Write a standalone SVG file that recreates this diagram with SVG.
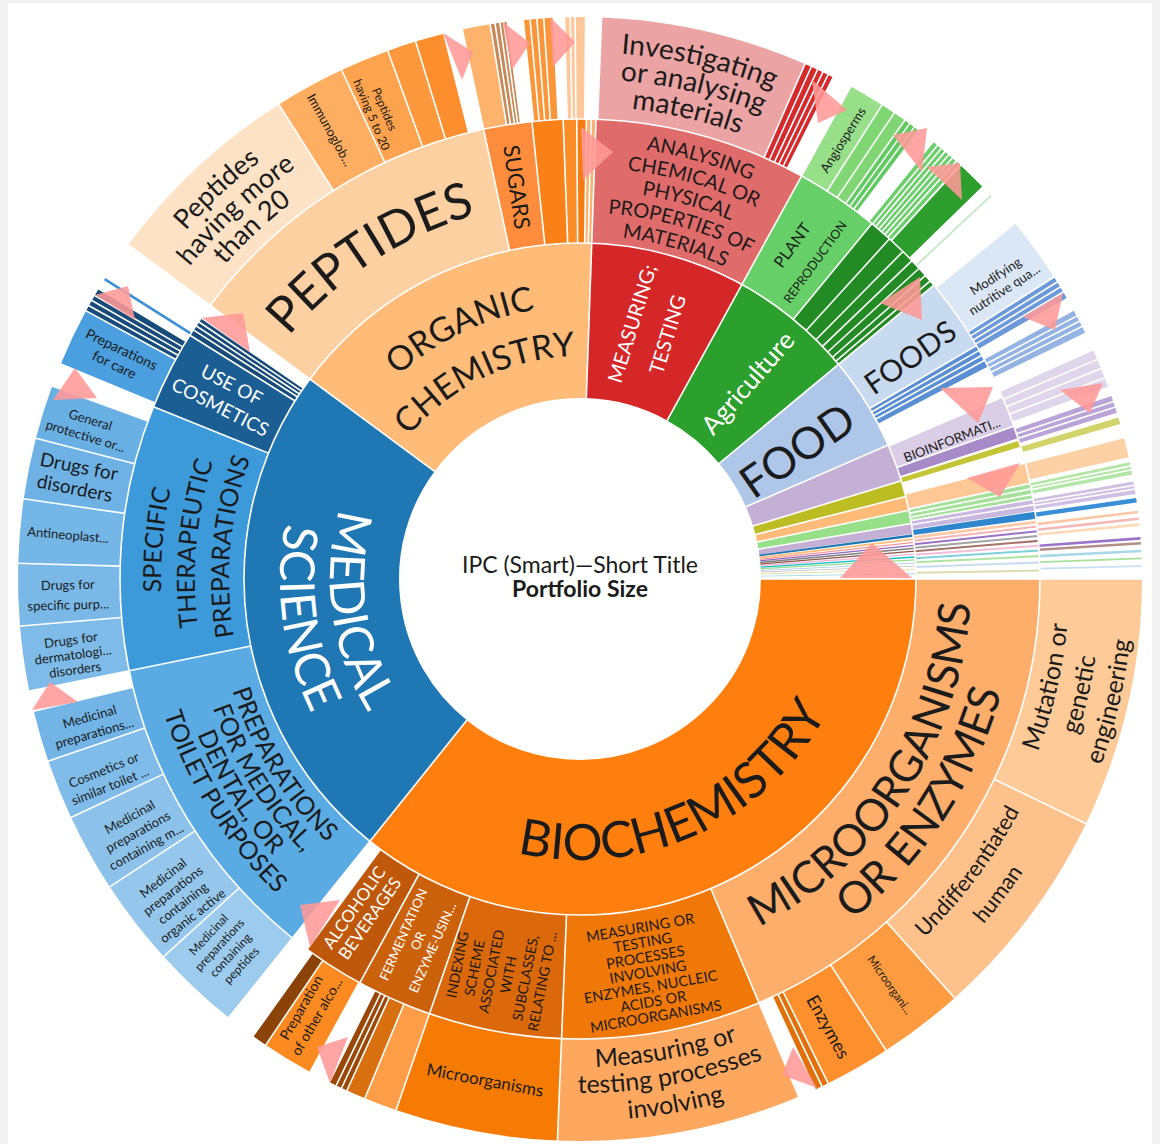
<svg xmlns="http://www.w3.org/2000/svg" width="1160" height="1144" viewBox="0 0 1160 1144">
<style>
text{font-family:Lato,"Liberation Sans","DejaVu Sans",sans-serif;fill:#1b1b1b}
.w{fill:#fff}
.sep{stroke:#fff;stroke-width:1.6;fill:none}
.tri{fill:#ff9896;fill-opacity:.88}
</style>
<defs>
<circle id="c1" cx="580" cy="579" r="258.5" fill="none" stroke-width="155"/>
<circle id="c2" cx="580" cy="579" r="398" fill="none" stroke-width="124"/>
<circle id="c3" cx="580" cy="579" r="511" fill="none" stroke-width="102"/>
<line id="s1" x1="580" y1="398" x2="580" y2="243"/>
<line id="s2" x1="580" y1="243" x2="580" y2="119"/>
<line id="s3" x1="580" y1="119" x2="580" y2="15"/>
<line id="s12" x1="580" y1="398" x2="580" y2="119"/>
<line id="s23" x1="580" y1="243" x2="580" y2="15"/>
<line id="s123" x1="580" y1="398" x2="580" y2="15"/>
<path id="p223" d="M580 802A223 223 0 1 1 580 356A223 223 0 1 1 580 802"/>
<path id="p273" d="M580 852A273 273 0 1 1 580 306A273 273 0 1 1 580 852"/>
<path id="p379" d="M580 958A379 379 0 1 1 580 200A379 379 0 1 1 580 958"/>
<path id="p419" d="M580 998A419 419 0 1 1 580 160A419 419 0 1 1 580 998"/>
<path id="p385" d="M580 964A385 385 0 1 1 580 194A385 385 0 1 1 580 964"/>
<path id="p351" d="M580 930A351 351 0 1 1 580 228A351 351 0 1 1 580 930"/>
<path id="p434" d="M580 1013A434 434 0 1 1 580 145A434 434 0 1 1 580 1013"/>
<path id="p411" d="M580 990.5A411.5 411.5 0 1 1 580 167.5A411.5 411.5 0 1 1 580 990.5"/>
<path id="p389" d="M580 968A389 389 0 1 1 580 190A389 389 0 1 1 580 968"/>
<path id="p366" d="M580 945.5A366.5 366.5 0 1 1 580 212.5A366.5 366.5 0 1 1 580 945.5"/>
<path id="p344" d="M580 923A344 344 0 1 1 580 235A344 344 0 1 1 580 923"/>
<path id="p526" d="M580 1105A526 526 0 1 1 580 53A526 526 0 1 1 580 1105"/>
<path id="p527" d="M580 1106A527 527 0 1 1 580 52A527 527 0 1 1 580 1106"/>
<path id="p500" d="M580 1079A500 500 0 1 1 580 79A500 500 0 1 1 580 1079"/>
<path id="p474" d="M580 1053A474 474 0 1 1 580 105A474 474 0 1 1 580 1053"/>
<path id="p473" d="M580 1052A473 473 0 1 1 580 106A473 473 0 1 1 580 1052"/>
<path id="q281" d="M580 298A281 281 0 1 0 580 860A281 281 0 1 0 580 298"/>
<path id="q250" d="M580 329A250 250 0 1 0 580 829A250 250 0 1 0 580 329"/>
<path id="q300" d="M580 279A300 300 0 1 0 580 879A300 300 0 1 0 580 279"/>
<path id="q391" d="M580 188A391 391 0 1 0 580 970A391 391 0 1 0 580 188"/>
<path id="q436" d="M580 143A436 436 0 1 0 580 1015A436 436 0 1 0 580 143"/>
<path id="q365" d="M580 214A365 365 0 1 0 580 944A365 365 0 1 0 580 214"/>
<path id="q389" d="M580 190A389 389 0 1 0 580 968A389 389 0 1 0 580 190"/>
<path id="q413" d="M580 166A413 413 0 1 0 580 992A413 413 0 1 0 580 166"/>
<path id="q437" d="M580 142A437 437 0 1 0 580 1016A437 437 0 1 0 580 142"/>
<path id="q489" d="M580 89.5A489.5 489.5 0 1 0 580 1068.5A489.5 489.5 0 1 0 580 89.5"/>
<path id="q521" d="M580 57.5A521.5 521.5 0 1 0 580 1100.5A521.5 521.5 0 1 0 580 57.5"/>
<path id="q553" d="M580 25.5A553.5 553.5 0 1 0 580 1132.5A553.5 553.5 0 1 0 580 25.5"/>
<path id="q497" d="M580 82A497 497 0 1 0 580 1076A497 497 0 1 0 580 82"/>
<path id="q531" d="M580 48A531 531 0 1 0 580 1110A531 531 0 1 0 580 48"/>
<path id="q488" d="M580 91A488 488 0 1 0 580 1067A488 488 0 1 0 580 91"/>
<path id="q514" d="M580 65A514 514 0 1 0 580 1093A514 514 0 1 0 580 65"/>
<path id="q542" d="M580 37A542 542 0 1 0 580 1121A542 542 0 1 0 580 37"/>
</defs>
<rect width="1160" height="1144" fill="#f2f2f2"/>
<rect x="8" y="3" width="1144" height="1141" fill="#fff"/>

<!-- RING 1 -->
<g id="biochemistry">
<use href="#c1" stroke="#ff7f0e" stroke-dasharray="580.66 4000"/>
<text font-size="50" text-anchor="middle"><textPath href="#q281" startOffset="56.75%">BIOCHEMISTRY</textPath></text>
</g>
<g id="medical-science">
<use href="#c1" stroke="#1f77b4" stroke-dasharray="396.13 4000" transform="rotate(128.7 580 579)"/>
<text class="w" font-size="48" text-anchor="middle"><textPath href="#q250" startOffset="27.22%">MEDICAL</textPath></text>
<text class="w" font-size="48" text-anchor="middle"><textPath href="#q300" startOffset="27.22%">SCIENCE</textPath></text>
</g>
<g id="organic-chemistry">
<use href="#c1" stroke="#ffbb78" stroke-dasharray="250.40 4000" transform="rotate(216.5 580 579)"/>
<text font-size="34" text-anchor="middle"><textPath href="#p273" startOffset="42.86%">ORGANIC</textPath></text>
<text font-size="34" text-anchor="middle"><textPath href="#p223" startOffset="42.86%">CHEMISTRY</textPath></text>
</g>
<g id="measuring-testing">
<use href="#c1" stroke="#d62728" stroke-dasharray="120.91 4000" transform="rotate(-88 580 579)"/>
<text class="w" font-size="20" text-anchor="middle" transform="translate(650 329) rotate(-73)"><tspan x="0" y="-11.5">MEASURING;</tspan><tspan x="0" y="25.5">TESTING</tspan></text>
</g>
<g id="agriculture">
<use href="#c1" stroke="#2ca02c" stroke-dasharray="97.00 4000" transform="rotate(-61.2 580 579)"/>
<text class="w" font-size="26" text-anchor="middle" transform="translate(748 383) rotate(-49)" y="9">Agriculture</text>
</g>
<g id="food">
<use href="#c1" stroke="#aec7e8" stroke-dasharray="73.09 4000" transform="rotate(-39.7 580 579)"/>
<text font-size="44" text-anchor="middle" transform="translate(797 450) rotate(-35)" y="16">FOOD</text>
</g>
<g id="ring1-minor">
<use href="#c1" stroke="#c5b0d5" stroke-dasharray="29.33 4000" transform="rotate(-23.5 580 579)"/>
<use href="#c1" stroke="#bcbd22" stroke-dasharray="12.63 4000" transform="rotate(-17 580 579)"/>
<use href="#c1" stroke="#ffbb78" stroke-dasharray="10.83 4000" transform="rotate(-14.2 580 579)"/>
<use href="#c1" stroke="#98df8a" stroke-dasharray="10.38 4000" transform="rotate(-11.8 580 579)"/>
<use href="#c1" stroke="#c5b0d5" stroke-dasharray="8.12 4000" transform="rotate(-9.5 580 579)"/>
<use href="#c1" stroke="#1f77b4" stroke-dasharray="2.26 4000" transform="rotate(-7.7 580 579)"/>
<use href="#c1" stroke="#ffbb78" stroke-dasharray="1.80 4000" transform="rotate(-7 580 579)"/>
<use href="#c1" stroke="#ff9896" stroke-dasharray="1.35 4000" transform="rotate(-6.4 580 579)"/>
<use href="#c1" stroke="#9467bd" stroke-dasharray="1.35 4000" transform="rotate(-5.9 580 579)"/>
<use href="#c1" stroke="#7f7f7f" stroke-dasharray="1.35 4000" transform="rotate(-5.4 580 579)"/>
<use href="#c1" stroke="#8c564b" stroke-dasharray="1.35 4000" transform="rotate(-4.9 580 579)"/>
<use href="#c1" stroke="#f7b6d2" stroke-dasharray="1.35 4000" transform="rotate(-4.4 580 579)"/>
<use href="#c1" stroke="#17becf" stroke-dasharray="1.35 4000" transform="rotate(-3.9 580 579)"/>
<use href="#c1" stroke="#98df8a" stroke-dasharray="1.35 4000" transform="rotate(-3.4 580 579)"/>
<use href="#c1" stroke="#aec7e8" stroke-dasharray="0.9 4000" transform="rotate(-2.8 580 579)"/>
<use href="#c1" stroke="#c7c7c7" stroke-dasharray="0.9 4000" transform="rotate(-2.3 580 579)"/>
<use href="#c1" stroke="#dbdb8d" stroke-dasharray="0.9 4000" transform="rotate(-1.7 580 579)"/>
<use href="#c1" stroke="#9edae5" stroke-dasharray="0.9 4000" transform="rotate(-1 580 579)"/>
</g>

<!-- RING 2 -->
<g id="microorganisms-or-enzymes">
<use href="#c2" stroke="#fdae6b" stroke-dasharray="466.10 4000"/>
<text font-size="44" text-anchor="middle"><textPath href="#q391" startOffset="65.78%">MICROORGANISMS</textPath></text>
<text font-size="44" text-anchor="middle"><textPath href="#q436" startOffset="65.78%">OR ENZYMES</textPath></text>
</g>
<g id="measuring-or-testing-processes">
<use href="#c2" stroke="#f07808" stroke-dasharray="175.05 4000" transform="rotate(67.1 580 579)"/>
<text font-size="14.5" text-anchor="middle" transform="translate(648 972) rotate(-10)"><tspan x="0" y="-39.9">MEASURING OR</tspan><tspan x="0" y="-24.9">TESTING</tspan><tspan x="0" y="-9.9">PROCESSES</tspan><tspan x="0" y="5.1">INVOLVING</tspan><tspan x="0" y="20.1">ENZYMES, NUCLEIC</tspan><tspan x="0" y="35.1">ACIDS OR</tspan><tspan x="0" y="50.1">MICROORGANISMS</tspan></text>
</g>
<g id="indexing-scheme">
<use href="#c2" stroke="#dc680c" stroke-dasharray="116.70 4000" transform="rotate(92.3 580 579)"/>
<text font-size="14" text-anchor="middle" transform="translate(500 973) rotate(-79)"><tspan x="0" y="-38.35">INDEXING</tspan><tspan x="0" y="-21.05">SCHEME</tspan><tspan x="0" y="-3.75">ASSOCIATED</tspan><tspan x="0" y="13.55">WITH</tspan><tspan x="0" y="30.85">SUBCLASSES,</tspan><tspan x="0" y="48.15">RELATING TO ...</tspan></text>
</g>
<g id="fermentation">
<use href="#c2" stroke="#cb610b" stroke-dasharray="65.99 4000" transform="rotate(109.1 580 579)"/>
<text class="w" font-size="13" text-anchor="middle" transform="translate(418 941) rotate(-66)"><tspan x="0" y="-11.4">FERMENTATION</tspan><tspan x="0" y="4.6">OR</tspan><tspan x="0" y="20.6">ENZYME-USIN...</tspan></text>
</g>
<g id="alcoholic-beverages">
<use href="#c2" stroke="#bf580a" stroke-dasharray="53.49 4000" transform="rotate(118.6 580 579)"/>
<text class="w" font-size="17" text-anchor="middle" transform="translate(362 913) rotate(-55)"><tspan x="0" y="-3.5">ALCOHOLIC</tspan><tspan x="0" y="15.5">BEVERAGES</tspan></text>
</g>
<g id="preparations-medical">
<use href="#c2" stroke="#5aaae3" stroke-dasharray="276.47 4000" transform="rotate(128.7 580 579)"/>
<text font-size="25" text-anchor="middle"><textPath href="#q365" startOffset="33.89%">PREPARATIONS</textPath></text>
<text font-size="25" text-anchor="middle"><textPath href="#q389" startOffset="33.89%">FOR MEDICAL,</textPath></text>
<text font-size="25" text-anchor="middle"><textPath href="#q413" startOffset="33.89%">DENTAL, OR</textPath></text>
<text font-size="25" text-anchor="middle"><textPath href="#q437" startOffset="33.89%">TOILET PURPOSES</textPath></text>
</g>
<g id="specific-therapeutic">
<use href="#c2" stroke="#3c99da" stroke-dasharray="232.70 4000" transform="rotate(168.5 580 579)"/>
<text font-size="25" text-anchor="middle"><textPath href="#p419" startOffset="26.47%">SPECIFIC</textPath></text>
<text font-size="25" text-anchor="middle"><textPath href="#p385" startOffset="26.47%">THERAPEUTIC</textPath></text>
<text font-size="25" text-anchor="middle"><textPath href="#p351" startOffset="26.47%">PREPARATIONS</textPath></text>
</g>
<g id="use-of-cosmetics">
<use href="#c2" stroke="#1b5e93" stroke-dasharray="69.46 4000" transform="rotate(202 580 579)"/>
<use href="#c2" stroke="#164b78" stroke-dasharray="17.37 4000" transform="rotate(212 580 579)"/>
<text class="w" font-size="19" text-anchor="middle" transform="translate(226 396) rotate(27)"><tspan x="0" y="-5.8">USE OF</tspan><tspan x="0" y="19.2">COSMETICS</tspan></text>
</g>
<g id="peptides">
<use href="#c2" stroke="#fdd0a2" stroke-dasharray="287.58 4000" transform="rotate(216.5 580 579)"/>
<text font-size="50" text-anchor="middle"><textPath href="#p379" startOffset="40.81%">PEPTIDES</textPath></text>
</g>
<g id="sugars">
<use href="#c2" stroke="#fd8d3c" stroke-dasharray="42.37 4000" transform="rotate(257.9 580 579)"/>
<text font-size="22" text-anchor="middle" transform="translate(517 187) rotate(82)" y="8">SUGARS</text>
</g>
<g id="organic-minor">
<use href="#c2" stroke="#f98118" stroke-dasharray="27.09 4000" transform="rotate(264 580 579)"/>
<use href="#c2" stroke="#fb8c26" stroke-dasharray="11.81 4000" transform="rotate(267.9 580 579)"/>
<use href="#c2" stroke="#f47c12" stroke-dasharray="8.34 4000" transform="rotate(269.6 580 579)"/>
<use href="#c2" stroke="#fbb070" stroke-dasharray="8.34 4000" transform="rotate(270.8 580 579)"/>
</g>
<g id="analysing">
<use href="#c2" stroke="#e06b6b" stroke-dasharray="186.16 4000" transform="rotate(-88 580 579)"/>
<text font-size="20" text-anchor="middle"><textPath href="#p434" startOffset="54.44%">ANALYSING</textPath></text>
<text font-size="20" text-anchor="middle"><textPath href="#p411" startOffset="54.44%">CHEMICAL OR</textPath></text>
<text font-size="20" text-anchor="middle"><textPath href="#p389" startOffset="54.44%">PHYSICAL</textPath></text>
<text font-size="20" text-anchor="middle"><textPath href="#p366" startOffset="54.44%">PROPERTIES OF</textPath></text>
<text font-size="20" text-anchor="middle"><textPath href="#p344" startOffset="54.44%">MATERIALS</textPath></text>
</g>
<g id="plant-reproduction">
<use href="#c2" stroke="#67cf67" stroke-dasharray="73.63 4000" transform="rotate(-61.2 580 579)"/>
<text font-size="16" text-anchor="middle" transform="translate(792 245) rotate(-54)" y="6">PLANT</text>
<text font-size="12.5" text-anchor="middle" transform="translate(815 262) rotate(-54)" y="4.5">REPRODUCTION</text>
</g>
<g id="agriculture-minor">
<use href="#c2" stroke="#238b23" stroke-dasharray="75.72 4000" transform="rotate(-50.6 580 579)"/>
</g>
<g id="foods">
<use href="#c2" stroke="#c7daf0" stroke-dasharray="63.91 4000" transform="rotate(-39.7 580 579)"/>
<use href="#c2" stroke="#5a8fd3" stroke-dasharray="20.84 4000" transform="rotate(-30.5 580 579)"/>
<text font-size="30" text-anchor="middle" transform="translate(910 357) rotate(-35)" y="11">FOODS</text>
</g>
<g id="bioinformatics">
<use href="#c2" stroke="#dacde6" stroke-dasharray="27.09 4000" transform="rotate(-23.3 580 579)"/>
<use href="#c2" stroke="#a78bc9" stroke-dasharray="11.11 4000" transform="rotate(-19.4 580 579)"/>
<text font-size="13" text-anchor="middle" transform="translate(952 440) rotate(-21)" y="4.5">BIOINFORMATI...</text>
</g>
<g id="ring2-minor">
<use href="#c2" stroke="#c4c536" stroke-dasharray="5.56 4000" transform="rotate(-17.5 580 579)"/>
<use href="#c2" stroke="#fdc895" stroke-dasharray="17.37 4000" transform="rotate(-14.5 580 579)"/>
<use href="#c2" stroke="#a5e19a" stroke-dasharray="13.89 4000" transform="rotate(-12 580 579)"/>
<use href="#c2" stroke="#c8b7de" stroke-dasharray="10.42 4000" transform="rotate(-10 580 579)"/>
<use href="#c2" stroke="#2f86cc" stroke-dasharray="6.25 4000" transform="rotate(-8.4 580 579)"/>
<use href="#c2" stroke="#fdc9a6" stroke-dasharray="2.78 4000" transform="rotate(-7.3 580 579)"/>
<use href="#c2" stroke="#f5b3b3" stroke-dasharray="2.08 4000" transform="rotate(-6.7 580 579)"/>
<use href="#c2" stroke="#9a73c5" stroke-dasharray="2.08 4000" transform="rotate(-6.1 580 579)"/>
<use href="#c2" stroke="#a3a3a3" stroke-dasharray="2.08 4000" transform="rotate(-5.5 580 579)"/>
<use href="#c2" stroke="#a47469" stroke-dasharray="2.08 4000" transform="rotate(-4.9 580 579)"/>
<use href="#c2" stroke="#f2bdd5" stroke-dasharray="2.08 4000" transform="rotate(-4.3 580 579)"/>
<use href="#c2" stroke="#7fd0dc" stroke-dasharray="2.08 4000" transform="rotate(-3.7 580 579)"/>
<use href="#c2" stroke="#b0e3a4" stroke-dasharray="2.08 4000" transform="rotate(-3 580 579)"/>
<use href="#c2" stroke="#c9dcef" stroke-dasharray="2.08 4000" transform="rotate(-2.2 580 579)"/>
<use href="#c2" stroke="#dcdcae" stroke-dasharray="2.08 4000" transform="rotate(-1.2 580 579)"/>
</g>

<!-- RING 3 -->
<g id="mutation">
<use href="#c3" stroke="#fdca98" stroke-dasharray="230.10 4000"/>
<text font-size="25" text-anchor="middle"><textPath href="#q489" startOffset="71.39%">Mutation or</textPath></text>
<text font-size="25" text-anchor="middle"><textPath href="#q521" startOffset="71.39%">genetic</textPath></text>
<text font-size="25" text-anchor="middle"><textPath href="#q553" startOffset="71.39%">engineering</textPath></text>
</g>
<g id="undifferentiated-human">
<use href="#c3" stroke="#fdc18c" stroke-dasharray="199.78 4000" transform="rotate(25.8 580 579)"/>
<text font-size="22" text-anchor="middle"><textPath href="#q497" startOffset="64.72%">Undifferentiated</textPath></text>
<text font-size="22" text-anchor="middle"><textPath href="#q531" startOffset="64.72%">human</textPath></text>
</g>
<g id="microorgani">
<use href="#c3" stroke="#fd9b40" stroke-dasharray="78.48 4000" transform="rotate(48.2 580 579)"/>
<text font-size="11.5" text-anchor="middle" transform="translate(890 985) rotate(55)" y="4">Microorgani...</text>
</g>
<g id="enzymes">
<use href="#c3" stroke="#fd8f2c" stroke-dasharray="60.65 4000" transform="rotate(57 580 579)"/>
<use href="#c3" stroke="#e2700a" stroke-dasharray="12.49 4000" transform="rotate(63.8 580 579)"/>
<text font-size="18" text-anchor="middle" transform="translate(828 1027) rotate(61)" y="6">Enzymes</text>
</g>
<g id="measuring-or-testing-involving">
<use href="#c3" stroke="#fda85e" stroke-dasharray="224.75 4000" transform="rotate(67.1 580 579)"/>
<text font-size="25" text-anchor="middle"><textPath href="#q488" startOffset="52.86%">Measuring or</textPath></text>
<text font-size="25" text-anchor="middle"><textPath href="#q514" startOffset="52.86%">testing processes</textPath></text>
<text font-size="25" text-anchor="middle"><textPath href="#q542" startOffset="52.86%">involving</textPath></text>
</g>
<g id="microorganisms">
<use href="#c3" stroke="#f57b05" stroke-dasharray="149.83 4000" transform="rotate(92.3 580 579)"/>
<text font-size="17" text-anchor="middle" transform="translate(485 1080) rotate(10.7)" y="6">Microorganisms</text>
</g>
<g id="fermentation-children">
<use href="#c3" stroke="#fd9d47" stroke-dasharray="30.32 4000" transform="rotate(109.1 580 579)"/>
<use href="#c3" stroke="#d8700f" stroke-dasharray="17.84 4000" transform="rotate(112.5 580 579)"/>
<use href="#c3" stroke="#9a4808" stroke-dasharray="16.95 4000" transform="rotate(114.5 580 579)"/>
</g>
<g id="preparation-other-alcoholic">
<use href="#c3" stroke="#fb8b20" stroke-dasharray="47.27 4000" transform="rotate(118.7 580 579)"/>
<use href="#c3" stroke="#8b4307" stroke-dasharray="13.38 4000" transform="rotate(124 580 579)"/>
<text font-size="14" text-anchor="middle" transform="translate(309 1012) rotate(-60)"><tspan x="0" y="-4">Preparation</tspan><tspan x="0" y="14">of other alco...</tspan></text>
</g>
<g id="medicinal-peptides">
<use href="#c3" stroke="#9ccbee" stroke-dasharray="81.16 4000" transform="rotate(128.7 580 579)"/>
<text font-size="12" text-anchor="middle" transform="translate(225 950) rotate(-47)"><tspan x="0" y="-18.3">Medicinal</tspan><tspan x="0" y="-3.3">preparations</tspan><tspan x="0" y="11.7">containing</tspan><tspan x="0" y="26.7">peptides</tspan></text>
</g>
<g id="medicinal-organic">
<use href="#c3" stroke="#95c7ec" stroke-dasharray="80.27 4000" transform="rotate(137.8 580 579)"/>
<text font-size="13" text-anchor="middle" transform="translate(178 897) rotate(-38)"><tspan x="0" y="-19.5">Medicinal</tspan><tspan x="0" y="-3.5">preparations</tspan><tspan x="0" y="12.5">containing</tspan><tspan x="0" y="28.5">organic active</tspan></text>
</g>
<g id="medicinal-m">
<use href="#c3" stroke="#8cc2ea" stroke-dasharray="72.24 4000" transform="rotate(146.8 580 579)"/>
<text font-size="13" text-anchor="middle" transform="translate(138 832) rotate(-29)"><tspan x="0" y="-12.5">Medicinal</tspan><tspan x="0" y="4.5">preparations</tspan><tspan x="0" y="21.5">containing m...</tspan></text>
</g>
<g id="cosmetics-toilet">
<use href="#c3" stroke="#80bce9" stroke-dasharray="55.30 4000" transform="rotate(154.9 580 579)"/>
<text font-size="13" text-anchor="middle" transform="translate(107 778) rotate(-22)"><tspan x="0" y="-4">Cosmetics or</tspan><tspan x="0" y="13">similar toilet ...</tspan></text>
</g>
<g id="medicinal-preparations">
<use href="#c3" stroke="#72b4e6" stroke-dasharray="46.38 4000" transform="rotate(161.1 580 579)"/>
<text font-size="13" text-anchor="middle" transform="translate(92 725) rotate(-16)"><tspan x="0" y="-4">Medicinal</tspan><tspan x="0" y="13">preparations...</tspan></text>
</g>
<g id="drugs-dermatological">
<use href="#c3" stroke="#7ebbe8" stroke-dasharray="59.75 4000" transform="rotate(168.5 580 579)"/>
<text font-size="13" text-anchor="middle" transform="translate(73 655) rotate(-8)"><tspan x="0" y="-10.5">Drugs for</tspan><tspan x="0" y="4.5">dermatologi...</tspan><tspan x="0" y="19.5">disorders</tspan></text>
</g>
<g id="drugs-specific">
<use href="#c3" stroke="#7ab9e7" stroke-dasharray="57.08 4000" transform="rotate(175.2 580 579)"/>
<text font-size="13" text-anchor="middle" transform="translate(68 595) rotate(-1.6)"><tspan x="0" y="-5.5">Drugs for</tspan><tspan x="0" y="14.5">specific purp...</tspan></text>
</g>
<g id="antineoplastic">
<use href="#c3" stroke="#74b6e6" stroke-dasharray="58.86 4000" transform="rotate(181.6 580 579)"/>
<text font-size="13" text-anchor="middle" transform="translate(68 535) rotate(5)" y="4.5">Antineoplast...</text>
</g>
<g id="drugs-disorders">
<use href="#c3" stroke="#6eb2e5" stroke-dasharray="56.19 4000" transform="rotate(188.2 580 579)"/>
<text font-size="19" text-anchor="middle" transform="translate(77 477) rotate(11)"><tspan x="0" y="-4">Drugs for</tspan><tspan x="0" y="18">disorders</tspan></text>
</g>
<g id="general-protective">
<use href="#c3" stroke="#68afe4" stroke-dasharray="49.05 4000" transform="rotate(194.5 580 579)"/>
<text font-size="13" text-anchor="middle" transform="translate(88 428) rotate(17)"><tspan x="0" y="-4">General</tspan><tspan x="0" y="13">protective or...</tspan></text>
</g>
<g id="preparations-for-care">
<use href="#c3" stroke="#4b9fdf" stroke-dasharray="53.51 4000" transform="rotate(202.5 580 579)"/>
<use href="#c3" stroke="#174b79" stroke-dasharray="22.30 4000" transform="rotate(208.5 580 579)"/>
<use href="#c3" stroke="#3d8fd6" stroke-dasharray="2.68 4000" transform="rotate(212.1 580 579)"/>
<text font-size="14" text-anchor="middle" transform="translate(118 357) rotate(25.5)"><tspan x="0" y="-3.5">Preparations</tspan><tspan x="0" y="13.5">for care</tspan></text>
</g>
<g id="peptides-more-than-20">
<use href="#c3" stroke="#fde2c5" stroke-dasharray="188.18 4000" transform="rotate(216.5 580 579)"/>
<text font-size="27" text-anchor="middle"><textPath href="#p526" startOffset="38.06%">Peptides</textPath></text>
<text font-size="27" text-anchor="middle"><textPath href="#p500" startOffset="38.06%">having more</textPath></text>
<text font-size="27" text-anchor="middle"><textPath href="#p474" startOffset="38.06%">than 20</textPath></text>
</g>
<g id="immunoglobulins">
<use href="#c3" stroke="#fdae61" stroke-dasharray="65.11 4000" transform="rotate(237.6 580 579)"/>
<text font-size="13" text-anchor="middle" transform="translate(330 130) rotate(61)" y="4.5">Immunoglob...</text>
</g>
<g id="peptides-5-to-20">
<use href="#c3" stroke="#fda34d" stroke-dasharray="45.48 4000" transform="rotate(244.9 580 579)"/>
<text font-size="12" text-anchor="middle" transform="translate(378 112) rotate(67)"><tspan x="0" y="-2.8">Peptides</tspan><tspan x="0" y="11.2">having 5 to 20</tspan></text>
</g>
<g id="ring3-organic-minor">
<use href="#c3" stroke="#fd983d" stroke-dasharray="26.76 4000" transform="rotate(250 580 579)"/>
<use href="#c3" stroke="#fc8e2d" stroke-dasharray="25.86 4000" transform="rotate(253 580 579)"/>
<use href="#c3" stroke="#fdb36b" stroke-dasharray="25.86 4000" transform="rotate(257.9 580 579)"/>
<use href="#c3" stroke="#c58a58" stroke-dasharray="15.16 4000" transform="rotate(260.8 580 579)"/>
<use href="#c3" stroke="#fb9638" stroke-dasharray="26.76 4000" transform="rotate(264.2 580 579)"/>
<use href="#c3" stroke="#fdc79a" stroke-dasharray="17.84 4000" transform="rotate(268.5 580 579)"/>
</g>
<g id="investigating">
<use href="#c3" stroke="#eba3a3" stroke-dasharray="190.86 4000" transform="rotate(-87.8 580 579)"/>
<use href="#c3" stroke="#d42a2c" stroke-dasharray="27.65 4000" transform="rotate(-66.4 580 579)"/>
<text font-size="28" text-anchor="middle"><textPath href="#p527" startOffset="53.61%">Investigating</textPath></text>
<text font-size="28" text-anchor="middle"><textPath href="#p500" startOffset="53.61%">or analysing</textPath></text>
<text font-size="28" text-anchor="middle"><textPath href="#p473" startOffset="53.61%">materials</textPath></text>
</g>
<g id="angiosperms">
<use href="#c3" stroke="#98df8a" stroke-dasharray="33.00 4000" transform="rotate(-61.2 580 579)"/>
<text font-size="13" text-anchor="middle" transform="translate(843 140) rotate(-58)" y="4.5">Angiosperms</text>
</g>
<g id="ring3-agri-minor">
<use href="#c3" stroke="#7fd672" stroke-dasharray="24.97 4000" transform="rotate(-57.5 580 579)"/>
<use href="#c3" stroke="#5fca5f" stroke-dasharray="15.16 4000" transform="rotate(-54.7 580 579)"/>
<use href="#c3" stroke="#6ccf6c" stroke-dasharray="31.22 4000" transform="rotate(-51 580 579)"/>
<use href="#c3" stroke="#2e9e2e" stroke-dasharray="26.76 4000" transform="rotate(-47.3 580 579)"/>
<use href="#c3" stroke="#c2e8c2" stroke-dasharray="1.78 4000" transform="rotate(-43.1 580 579)"/>
</g>
<g id="modifying-nutritive">
<use href="#c3" stroke="#dbe7f5" stroke-dasharray="60.65 4000" transform="rotate(-39.3 580 579)"/>
<use href="#c3" stroke="#6b99d9" stroke-dasharray="22.30 4000" transform="rotate(-32.5 580 579)"/>
<use href="#c3" stroke="#93b3e2" stroke-dasharray="22.30 4000" transform="rotate(-28.5 580 579)"/>
<text font-size="13" text-anchor="middle" transform="translate(1000 283) rotate(-33)"><tspan x="0" y="-3.5">Modifying</tspan><tspan x="0" y="12.5">nutritive qua...</tspan></text>
</g>
<g id="ring3-minor">
<use href="#c3" stroke="#e0d6ec" stroke-dasharray="35.67 4000" transform="rotate(-24 580 579)"/>
<use href="#c3" stroke="#b9a4d7" stroke-dasharray="16.05 4000" transform="rotate(-19 580 579)"/>
<use href="#c3" stroke="#d2d36a" stroke-dasharray="6.24 4000" transform="rotate(-16.7 580 579)"/>
<use href="#c3" stroke="#fdd0a5" stroke-dasharray="17.84 4000" transform="rotate(-14.5 580 579)"/>
<use href="#c3" stroke="#b3e6a6" stroke-dasharray="11.59 4000" transform="rotate(-12 580 579)"/>
<use href="#c3" stroke="#cfc0e3" stroke-dasharray="11.59 4000" transform="rotate(-10 580 579)"/>
<use href="#c3" stroke="#3a8fd6" stroke-dasharray="4.46 4000" transform="rotate(-8.3 580 579)"/>
<use href="#c3" stroke="#fbc7a6" stroke-dasharray="2.68 4000" transform="rotate(-7 580 579)"/>
<use href="#c3" stroke="#f4b7b7" stroke-dasharray="2.68 4000" transform="rotate(-6.3 580 579)"/>
<use href="#c3" stroke="#fdd9b8" stroke-dasharray="2.68 4000" transform="rotate(-5.7 580 579)"/>
<use href="#c3" stroke="#9a74c8" stroke-dasharray="2.68 4000" transform="rotate(-4.3 580 579)"/>
<use href="#c3" stroke="#b09088" stroke-dasharray="2.68 4000" transform="rotate(-3.8 580 579)"/>
<use href="#c3" stroke="#a9d8e8" stroke-dasharray="2.68 4000" transform="rotate(-3 580 579)"/>
<use href="#c3" stroke="#a8e09a" stroke-dasharray="1.78 4000" transform="rotate(-2.2 580 579)"/>
<use href="#c3" stroke="#c6dff2" stroke-dasharray="1.78 4000" transform="rotate(-1.4 580 579)"/>
</g>

<!-- separators -->
<g id="separators" class="sep">
<circle cx="580" cy="579" r="336"/>
<circle cx="580" cy="579" r="460"/>
<use href="#s123" transform="rotate(90 580 579)"/>
<use href="#s123" transform="rotate(218.7 580 579)"/>
<use href="#s123" transform="rotate(306.5 580 579)"/>
<use href="#s123" transform="rotate(28.8 580 579)"/>
<use href="#s12" transform="rotate(2 580 579)"/>
<use href="#s12" transform="rotate(50.3 580 579)"/>
<use href="#s1" transform="rotate(66.5 580 579)"/>
<use href="#s1" transform="rotate(73 580 579)"/>
<use href="#s1" transform="rotate(75.8 580 579)"/>
<use href="#s1" transform="rotate(78.2 580 579)"/>
<use href="#s1" transform="rotate(80.5 580 579)"/>
<use href="#s23" transform="rotate(157.1 580 579)"/>
<use href="#s23" transform="rotate(182.3 580 579)"/>
<use href="#s23" transform="rotate(199.1 580 579)"/>
<use href="#s23" transform="rotate(258.5 580 579)"/>
<use href="#s23" transform="rotate(347.9 580 579)"/>
<use href="#s2" transform="rotate(208.6 580 579)"/>
<use href="#s2" transform="rotate(292 580 579)"/>
<use href="#s2" transform="rotate(302 580 579)"/>
<use href="#s2" transform="rotate(302.8 580 579)"/>
<use href="#s2" transform="rotate(303.4 580 579)"/>
<use href="#s2" transform="rotate(304 580 579)"/>
<use href="#s2" transform="rotate(354 580 579)"/>
<use href="#s2" transform="rotate(357.9 580 579)"/>
<use href="#s2" transform="rotate(359.6 580 579)"/>
<use href="#s2" transform="rotate(0.8 580 579)"/>
<use href="#s2" transform="rotate(1.4 580 579)"/>
<use href="#s2" transform="rotate(39.4 580 579)"/>
<use href="#s2" transform="rotate(42.3 580 579)"/>
<use href="#s2" transform="rotate(44.6 580 579)"/>
<use href="#s2" transform="rotate(46.2 580 579)"/>
<use href="#s2" transform="rotate(47.5 580 579)"/>
<use href="#s2" transform="rotate(48.7 580 579)"/>
<use href="#s2" transform="rotate(49.6 580 579)"/>
<use href="#s2" transform="rotate(59.5 580 579)"/>
<use href="#s2" transform="rotate(60.2 580 579)"/>
<use href="#s2" transform="rotate(60.9 580 579)"/>
<use href="#s2" transform="rotate(61.6 580 579)"/>
<use href="#s2" transform="rotate(66.7 580 579)"/>
<use href="#s2" transform="rotate(70.6 580 579)"/>
<use href="#s2" transform="rotate(78 580 579)"/>
<use href="#s2" transform="rotate(78.7 580 579)"/>
<use href="#s2" transform="rotate(79.4 580 579)"/>
<use href="#s2" transform="rotate(80 580 579)"/>
<use href="#s2" transform="rotate(80.7 580 579)"/>
<use href="#s3" transform="rotate(115.8 580 579)"/>
<use href="#s3" transform="rotate(138.2 580 579)"/>
<use href="#s3" transform="rotate(147 580 579)"/>
<use href="#s3" transform="rotate(153.8 580 579)"/>
<use href="#s3" transform="rotate(154.5 580 579)"/>
<use href="#s3" transform="rotate(202.5 580 579)"/>
<use href="#s3" transform="rotate(204.5 580 579)"/>
<use href="#s3" transform="rotate(205.1 580 579)"/>
<use href="#s3" transform="rotate(205.7 580 579)"/>
<use href="#s3" transform="rotate(208.7 580 579)"/>
<use href="#s3" transform="rotate(214 580 579)"/>
<use href="#s3" transform="rotate(227.8 580 579)"/>
<use href="#s3" transform="rotate(236.8 580 579)"/>
<use href="#s3" transform="rotate(244.9 580 579)"/>
<use href="#s3" transform="rotate(251.1 580 579)"/>
<use href="#s3" transform="rotate(265.2 580 579)"/>
<use href="#s3" transform="rotate(271.6 580 579)"/>
<use href="#s3" transform="rotate(278.2 580 579)"/>
<use href="#s3" transform="rotate(284.5 580 579)"/>
<use href="#s3" transform="rotate(292.5 580 579)"/>
<use href="#s3" transform="rotate(298.5 580 579)"/>
<use href="#s3" transform="rotate(299.1 580 579)"/>
<use href="#s3" transform="rotate(299.7 580 579)"/>
<use href="#s3" transform="rotate(300.3 580 579)"/>
<use href="#s3" transform="rotate(327.6 580 579)"/>
<use href="#s3" transform="rotate(334.9 580 579)"/>
<use href="#s3" transform="rotate(340 580 579)"/>
<use href="#s3" transform="rotate(343 580 579)"/>
<use href="#s3" transform="rotate(350.8 580 579)"/>
<use href="#s3" transform="rotate(351.3 580 579)"/>
<use href="#s3" transform="rotate(351.8 580 579)"/>
<use href="#s3" transform="rotate(352.2 580 579)"/>
<use href="#s3" transform="rotate(354.2 580 579)"/>
<use href="#s3" transform="rotate(354.9 580 579)"/>
<use href="#s3" transform="rotate(355.6 580 579)"/>
<use href="#s3" transform="rotate(356.3 580 579)"/>
<use href="#s3" transform="rotate(359 580 579)"/>
<use href="#s3" transform="rotate(359.5 580 579)"/>
<use href="#s3" transform="rotate(2.2 580 579)"/>
<use href="#s3" transform="rotate(23.6 580 579)"/>
<use href="#s3" transform="rotate(24.3 580 579)"/>
<use href="#s3" transform="rotate(25 580 579)"/>
<use href="#s3" transform="rotate(25.6 580 579)"/>
<use href="#s3" transform="rotate(26.2 580 579)"/>
<use href="#s3" transform="rotate(32.5 580 579)"/>
<use href="#s3" transform="rotate(34 580 579)"/>
<use href="#s3" transform="rotate(35.3 580 579)"/>
<use href="#s3" transform="rotate(35.9 580 579)"/>
<use href="#s3" transform="rotate(36.5 580 579)"/>
<use href="#s3" transform="rotate(39.5 580 579)"/>
<use href="#s3" transform="rotate(40 580 579)"/>
<use href="#s3" transform="rotate(40.5 580 579)"/>
<use href="#s3" transform="rotate(41 580 579)"/>
<use href="#s3" transform="rotate(41.5 580 579)"/>
<use href="#s3" transform="rotate(42 580 579)"/>
<use href="#s3" transform="rotate(50.7 580 579)"/>
<use href="#s3" transform="rotate(57.5 580 579)"/>
<use href="#s3" transform="rotate(58.1 580 579)"/>
<use href="#s3" transform="rotate(58.7 580 579)"/>
<use href="#s3" transform="rotate(59.3 580 579)"/>
<use href="#s3" transform="rotate(62.1 580 579)"/>
<use href="#s3" transform="rotate(62.7 580 579)"/>
<use href="#s3" transform="rotate(63.3 580 579)"/>
<use href="#s3" transform="rotate(67 580 579)"/>
<use href="#s3" transform="rotate(68 580 579)"/>
<use href="#s3" transform="rotate(69 580 579)"/>
<use href="#s3" transform="rotate(71.6 580 579)"/>
<use href="#s3" transform="rotate(72.2 580 579)"/>
<use href="#s3" transform="rotate(78.4 580 579)"/>
<use href="#s3" transform="rotate(78.8 580 579)"/>
<use href="#s3" transform="rotate(80.4 580 579)"/>
<use href="#s3" transform="rotate(80.8 580 579)"/>
</g>

<!-- markers -->
<g id="markers" class="tri">
<polygon points="443,33 473,52 462,80"/>
<polygon points="503,22 530,43 512,70"/>
<polygon points="550,17 575,42 553,67"/>
<polygon points="581,127 613,152 583,180"/>
<polygon points="812,80 847,110 818,123"/>
<polygon points="893,135 927,128 922,172"/>
<polygon points="927,167 960,163 962,200"/>
<polygon points="880,303 920,277 922,320"/>
<polygon points="940,388 993,387 978,423"/>
<polygon points="1023,317 1063,293 1055,330"/>
<polygon points="1060,390 1103,383 1090,413"/>
<polygon points="967,478 1020,463 1000,497"/>
<polygon points="840,578 872,543 912,578"/>
<polygon points="793,1047 782,1075 817,1088"/>
<polygon points="317,1047 348,1037 330,1083"/>
<polygon points="300,905 340,900 310,947"/>
<polygon points="32,710 50,682 78,702"/>
<polygon points="53,400 75,368 97,398"/>
<polygon points="95,295 128,286 135,320"/>
<polygon points="202,318 243,313 250,352"/>
</g>

<g id="center-title">
<text x="580" y="573" font-size="23" text-anchor="middle">IPC (Smart)—Short Title</text>
<text x="580" y="597" font-size="23" font-weight="bold" text-anchor="middle">Portfolio Size</text>
</g>
</svg>
